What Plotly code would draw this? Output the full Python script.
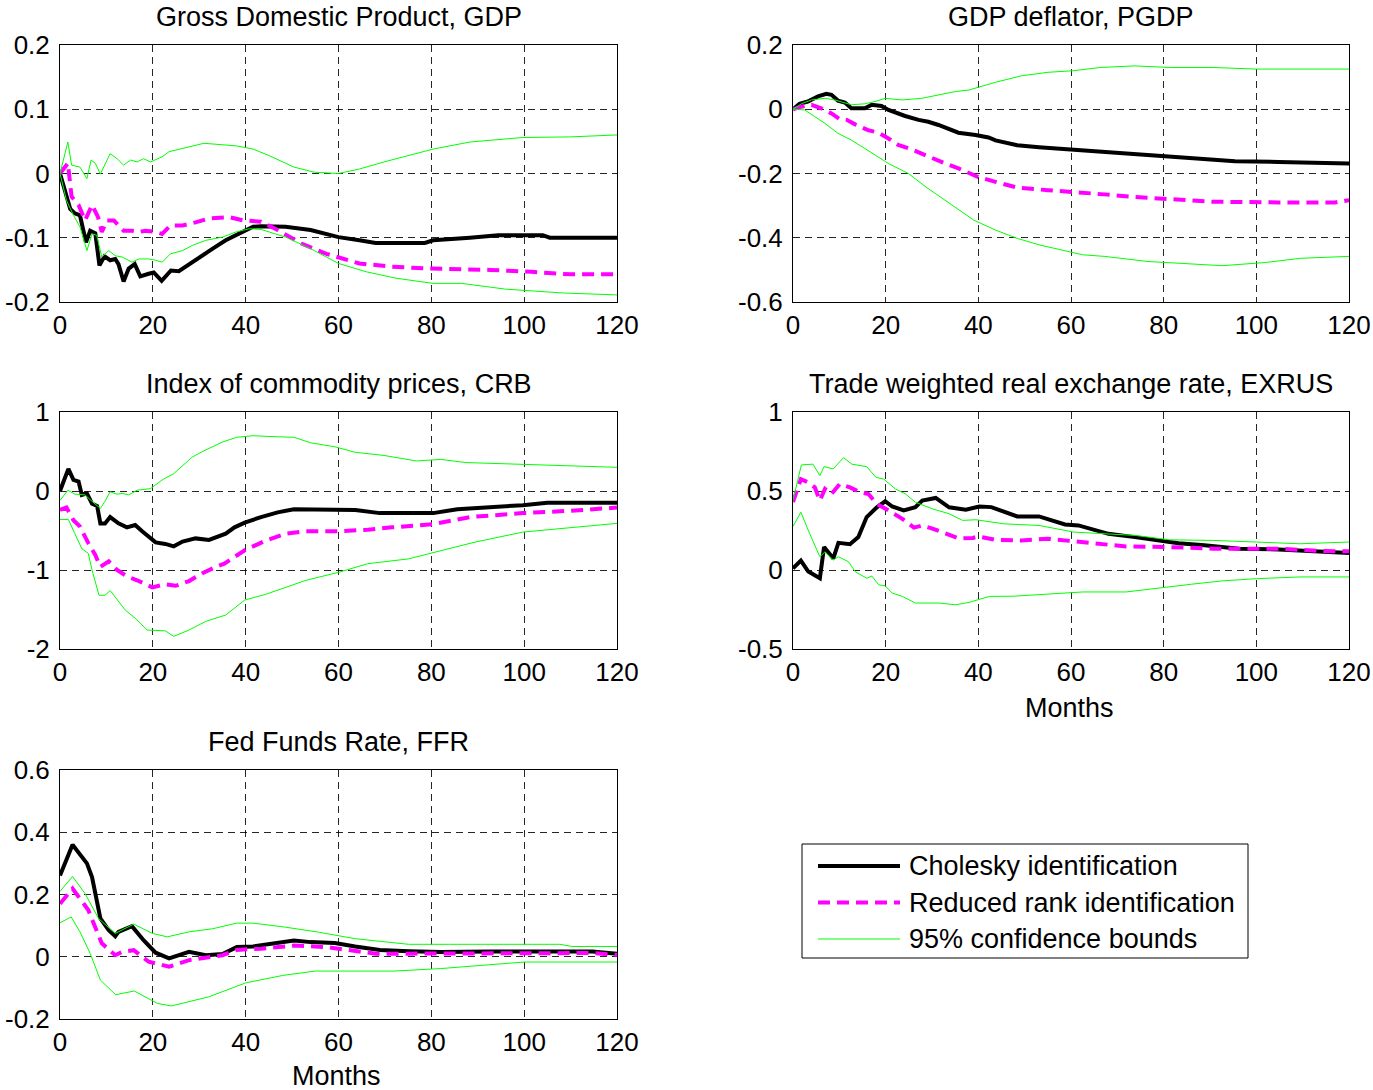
import plotly.graph_objects as go

# ---------------- data (month, value) ----------------
GDP_CHOL = [(0,0),(1.1,-0.026),(2.2,-0.055),(3.2,-0.062),(4.3,-0.065),(5.6,-0.107),(6.5,-0.089),(7.6,-0.093),(8.5,-0.143),(9.6,-0.129),(10.8,-0.135),(11.9,-0.133),(12.6,-0.141),(13.7,-0.168),(14.8,-0.148),(16.1,-0.141),(17.3,-0.16),(19.1,-0.156),(20.2,-0.154),(21.9,-0.167),(23.9,-0.151),(25.6,-0.152),(27.8,-0.141),(30,-0.13),(32.9,-0.117),(35.7,-0.104),(37.9,-0.096),(40.1,-0.089),(41.6,-0.083),(43.3,-0.082),(48.6,-0.083),(54,-0.088),(60,-0.099),(64.5,-0.104),(68,-0.108),(78.6,-0.108),(80.4,-0.104),(88.3,-0.1),(94.4,-0.096),(104,-0.096),(105.5,-0.1),(120,-0.1)]
GDP_RR = [(0,0),(1.7,0.016),(2.5,-0.036),(4,-0.049),(5.4,-0.073),(6.9,-0.049),(8.2,-0.068),(9,-0.091),(10.1,-0.073),(11.6,-0.073),(13.7,-0.089),(15.5,-0.089),(17,-0.091),(18.4,-0.089),(20.6,-0.091),(22,-0.094),(23.8,-0.081),(26.4,-0.081),(29.2,-0.076),(32.1,-0.07),(36.5,-0.068),(39.4,-0.073),(43.3,-0.075),(46.9,-0.088),(52,-0.109),(57.4,-0.125),(64.5,-0.14),(71.5,-0.145),(79.5,-0.148),(92.7,-0.15),(101.5,-0.153),(110,-0.157),(120,-0.157)]
GDP_HI = [(0,0),(1.7,0.049),(2.5,0.013),(4.3,0.01),(5.8,-0.008),(6.7,0.021),(7.6,0.016),(8.7,-0.001),(10.8,0.031),(12.3,0.023),(13.7,0.013),(15.2,0.021),(16.6,0.018),(18,0.023),(19.5,0.018),(20.6,0.022),(22,0.026),(23.5,0.034),(27.5,0.041),(31,0.047),(34.5,0.045),(38,0.043),(41.6,0.038),(45,0.028),(50.4,0.01),(54.8,0.002),(60,0),(64.5,0.007),(69.8,0.018),(75,0.028),(80.4,0.038),(88.3,0.049),(99.7,0.056),(110,0.057),(120,0.06)]
GDP_LO = [(0,0),(1.4,-0.042),(2.9,-0.065),(4.3,-0.083),(5.8,-0.12),(6.9,-0.094),(7.9,-0.096),(9,-0.13),(10.5,-0.12),(11.9,-0.128),(13.4,-0.13),(15.5,-0.138),(17,-0.133),(19.1,-0.133),(20.6,-0.135),(22,-0.138),(23.8,-0.125),(26.4,-0.12),(28.5,-0.112),(31.4,-0.104),(35,-0.099),(37.9,-0.091),(40.8,-0.086),(43.3,-0.087),(48.6,-0.099),(54,-0.117),(60,-0.14),(66,-0.153),(72.4,-0.163),(80.4,-0.171),(86.5,-0.171),(96,-0.18),(108.5,-0.186),(120,-0.189)]

PGDP_CHOL = [(0,0),(1.4,0.017),(3.2,0.024),(5.4,0.04),(7.2,0.048),(8.3,0.045),(9.7,0.027),(11.2,0.021),(12.6,0.003),(15.5,0.003),(17,0.014),(19.1,0.01),(20.6,-0.002),(24.2,-0.021),(27.1,-0.033),(29.2,-0.039),(31.4,-0.049),(33.6,-0.063),(35.7,-0.073),(39.4,-0.08),(42.2,-0.088),(43.7,-0.097),(48.4,-0.112),(53.1,-0.118),(57.8,-0.123),(62.5,-0.128),(67.2,-0.133),(71.9,-0.138),(79.4,-0.147),(86,-0.155),(95.4,-0.162),(104.8,-0.164),(111.4,-0.166),(114.2,-0.169),(120,-0.169)]
PGDP_RR = [(0,0),(1.8,0.008),(4,0.014),(6.1,0.003),(8.3,-0.013),(10.1,-0.031),(11.6,-0.033),(13.4,-0.047),(16.2,-0.065),(18.4,-0.073),(20.6,-0.091),(22.7,-0.111),(25.6,-0.125),(29.2,-0.148),(32.9,-0.169),(35.7,-0.184),(40,-0.211),(43.7,-0.226),(48.4,-0.244),(55,-0.252),(60.6,-0.257),(67.2,-0.265),(73.8,-0.273),(81.3,-0.281),(90.7,-0.288),(104.8,-0.29),(117,-0.29),(120,-0.283)]
PGDP_HI = [(0,0),(1.8,0.017),(4,0.029),(6.9,0.034),(9,0.029),(11.2,0.019),(12.6,0.014),(15.5,0.017),(17.7,0.024),(19.9,0.034),(23.5,0.029),(27.8,0.034),(31.4,0.045),(35,0.055),(38,0.06),(43.7,0.084),(49.3,0.104),(55,0.115),(60.6,0.12),(66.3,0.13),(73.8,0.135),(81.3,0.13),(90.7,0.13),(100,0.125),(109.4,0.125),(120,0.125)]
PGDP_LO = [(0,0),(2.5,-0.002),(4.7,-0.023),(6.9,-0.044),(9.7,-0.075),(12.6,-0.096),(15.5,-0.122),(18.4,-0.148),(20.6,-0.169),(23.5,-0.19),(24.9,-0.2),(28.7,-0.242),(34.3,-0.298),(39,-0.345),(43.7,-0.376),(48.4,-0.402),(53.1,-0.422),(57.8,-0.438),(62.5,-0.453),(67.2,-0.458),(76.6,-0.474),(84.1,-0.48),(92.6,-0.487),(102,-0.477),(109.5,-0.464),(120,-0.458)]

CRB_CHOL = [(0,0),(1.8,0.28),(2.9,0.14),(4,0.12),(4.7,-0.05),(5.8,-0.03),(6.9,-0.16),(8,-0.19),(8.7,-0.41),(9.7,-0.41),(10.8,-0.33),(12.6,-0.41),(14.4,-0.46),(16.2,-0.43),(17.7,-0.51),(20.6,-0.65),(22.7,-0.67),(24.5,-0.7),(26.4,-0.64),(29.2,-0.6),(32.1,-0.62),(35.7,-0.54),(37.6,-0.46),(39.8,-0.4),(43.3,-0.33),(46.9,-0.27),(50.4,-0.23),(57.4,-0.23),(63.6,-0.24),(68.9,-0.28),(80.4,-0.28),(85.6,-0.23),(92.7,-0.21),(99.7,-0.18),(105,-0.15),(120,-0.15)]
CRB_RR = [(0,-0.24),(1.4,-0.21),(2.9,-0.37),(4.3,-0.45),(6.1,-0.66),(7.6,-0.81),(8.7,-0.96),(10.5,-0.89),(12.3,-1.0),(14.4,-1.08),(16.6,-1.13),(19.9,-1.22),(22.7,-1.18),(24.9,-1.2),(27.8,-1.14),(30.7,-1.04),(33.6,-0.96),(35.4,-0.92),(39.8,-0.75),(44.2,-0.63),(48.6,-0.54),(53,-0.51),(60,-0.51),(66.3,-0.49),(71.5,-0.46),(80.4,-0.42),(88.3,-0.33),(99.7,-0.28),(110,-0.25),(120,-0.21)]
CRB_HI = [(0,-0.12),(1.7,0.01),(3.2,-0.04),(5.4,-0.05),(6.9,-0.13),(8.7,-0.22),(9.7,-0.13),(10.8,-0.01),(12.3,-0.04),(13.4,-0.03),(14.8,-0.05),(16.6,0.01),(19.5,0.03),(22,0.14),(24.5,0.22),(28.5,0.43),(30.7,0.5),(35,0.62),(38.1,0.68),(41.6,0.7),(45,0.69),(50.4,0.68),(54,0.61),(59.2,0.56),(63.6,0.49),(69.8,0.45),(76.8,0.38),(82,0.4),(87.4,0.36),(98.8,0.34),(110,0.32),(120,0.3)]
CRB_LO = [(0,-0.36),(1.8,-0.36),(3.2,-0.54),(4.7,-0.73),(6.1,-0.79),(6.9,-1.0),(8.4,-1.32),(9.7,-1.32),(10.8,-1.26),(11.9,-1.34),(14.1,-1.51),(16.2,-1.61),(18.8,-1.76),(22.7,-1.77),(24.5,-1.84),(27.8,-1.76),(31.4,-1.65),(35.7,-1.57),(39.8,-1.38),(44.2,-1.31),(48.6,-1.22),(53,-1.13),(60,-1.03),(66.3,-0.92),(75,-0.86),(80.4,-0.78),(89.2,-0.65),(99.7,-0.52),(110,-0.46),(120,-0.41)]

EXR_CHOL = [(0,0.01),(1.7,0.059),(3.3,-0.01),(5.8,-0.052),(6.7,0.146),(7.6,0.115),(8.7,0.073),(9.8,0.172),(12.3,0.163),(14.1,0.209),(15.9,0.335),(18.1,0.397),(19.9,0.435),(21.4,0.402),(23.9,0.377),(26.4,0.397),(27.9,0.439),(30.8,0.456),(33.7,0.397),(37.3,0.381),(40.2,0.402),(42.8,0.398),(45.6,0.366),(48.4,0.339),(53.1,0.339),(55.9,0.314),(58.7,0.288),(61.6,0.282),(64.4,0.261),(68.1,0.229),(73.8,0.208),(79.4,0.183),(83.2,0.17),(88.8,0.156),(96.3,0.135),(104.8,0.13),(109.5,0.124),(114.2,0.114),(120,0.107)]
EXR_RR = [(0,0.43),(1.7,0.575),(3.3,0.554),(4.7,0.523),(5.8,0.44),(6.9,0.513),(8.3,0.481),(10.1,0.544),(12.3,0.523),(14.5,0.492),(16.3,0.481),(18.1,0.418),(20.6,0.377),(23.6,0.324),(26.1,0.268),(27.9,0.282),(30.1,0.262),(33,0.23),(35.9,0.199),(38.8,0.203),(40,0.212),(43.7,0.191),(49.3,0.187),(55,0.198),(60.6,0.181),(66.3,0.17),(71.9,0.149),(81.3,0.145),(90.7,0.135),(104.8,0.135),(114.2,0.12),(120,0.118)]
EXR_HI = [(0,0.44),(1.8,0.665),(4.3,0.67),(5.8,0.597),(6.7,0.654),(8.7,0.64),(10.9,0.711),(12.7,0.67),(15.9,0.654),(17.9,0.586),(19.6,0.575),(22.1,0.513),(24.3,0.481),(26.4,0.429),(30.1,0.387),(33.7,0.356),(36.6,0.314),(39.5,0.318),(45.6,0.292),(53.1,0.282),(60.6,0.24),(67.2,0.229),(73.8,0.219),(81.3,0.191),(90.7,0.187),(100,0.177),(109.4,0.166),(120,0.177)]
EXR_LO = [(0,0.276),(1.7,0.366),(3.6,0.23),(5.8,0.084),(6.9,0.115),(8.7,0.063),(9.8,0.084),(12,0.052),(13.4,-0.01),(15.9,-0.052),(17,-0.038),(18.5,-0.094),(19.9,-0.1),(21.4,-0.146),(23.6,-0.167),(26.4,-0.209),(31.5,-0.209),(35.1,-0.22),(38,-0.205),(42.4,-0.167),(47.5,-0.166),(55,-0.153),(62.5,-0.139),(71.9,-0.139),(79.4,-0.111),(86,-0.09),(92.6,-0.069),(100,-0.055),(109.4,-0.044),(120,-0.044)]

FFR_CHOL = [(0,0.261),(2.7,0.36),(5.8,0.30),(6.9,0.256),(8.7,0.123),(10.5,0.085),(11.9,0.066),(12.6,0.08),(15.5,0.098),(18,0.053),(20.6,0.013),(23.5,-0.005),(27.8,0.016),(31.4,0.005),(35,0.009),(38.1,0.031),(41.6,0.033),(45.1,0.04),(50.4,0.052),(54,0.047),(59.2,0.044),(63.6,0.033),(68.9,0.022),(75.1,0.018),(82.1,0.015),(92.7,0.017),(101.5,0.017),(114.7,0.017),(120,0.01)]
FFR_RR = [(0,0.17),(2.7,0.219),(6.1,0.15),(9,0.043),(11.9,0.005),(13.4,0.016),(15.9,0.021),(19.1,-0.016),(23.5,-0.032),(27.8,-0.011),(35,0.005),(38.1,0.022),(43.3,0.026),(50.4,0.036),(57.4,0.031),(62.7,0.02),(68,0.01),(75.1,0.01),(83.9,0.01),(92.7,0.012),(105.9,0.012),(114.7,0.012),(120,0.006)]
FFR_HI = [(0,0.21),(2.7,0.258),(5.4,0.203),(8.3,0.123),(11.9,0.075),(15.9,0.105),(19.9,0.075),(23.1,0.064),(27.8,0.08),(32.9,0.09),(38.1,0.108),(41.6,0.108),(48.6,0.095),(55.7,0.079),(63.6,0.058),(70.7,0.047),(75.1,0.04),(83.9,0.04),(92.7,0.04),(107.7,0.04),(110.3,0.033),(120,0.033)]
FFR_LO = [(0,0.109),(2.4,0.128),(4.3,0.08),(6.5,0.011),(8.7,-0.075),(10.8,-0.107),(12,-0.122),(16,-0.11),(21,-0.15),(24,-0.158),(32,-0.129),(40,-0.084),(48,-0.06),(55,-0.046),(72,-0.046),(82,-0.038),(92,-0.025),(100,-0.017),(120,-0.017)]

TITLES = ["Gross Domestic Product, GDP", "GDP deflator, PGDP",
          "Index of commodity prices, CRB", "Trade weighted real exchange rate, EXRUS",
          "Fed Funds Rate, FFR"]
Y_TICKS = [[-0.2, -0.1, 0, 0.1, 0.2], [-0.6, -0.4, -0.2, 0, 0.2], [-2, -1, 0, 1],
           [-0.5, 0, 0.5, 1], [-0.2, 0, 0.2, 0.4, 0.6]]
X_TICKS = [0, 20, 40, 60, 80, 100, 120]
LEGEND_LABELS = ["Cholesky identification", "Reduced rank identification", "95% confidence bounds"]
XLABEL = "Months"

PANELS = [(GDP_CHOL, GDP_RR, GDP_HI, GDP_LO), (PGDP_CHOL, PGDP_RR, PGDP_HI, PGDP_LO),
          (CRB_CHOL, CRB_RR, CRB_HI, CRB_LO), (EXR_CHOL, EXR_RR, EXR_HI, EXR_LO),
          (FFR_CHOL, FFR_RR, FFR_HI, FFR_LO)]

# ---------------- layout geometry (pixels) ----------------
W, H = 1373, 1090
COLS = [(60, 617), (793, 1349)]
ROWS = [(45, 302), (412, 649), (770, 1019)]
POS = [(0, 0), (1, 0), (0, 1), (1, 1), (0, 2)]
FONT = "Liberation Sans, Arial, sans-serif"
FS_TICK = 26
FS_TEXT = 27

def px(x):
    return x / W

def py(y):
    return 1 - y / H

def fmt(v):
    return "%g" % v

GREEN = "rgb(0,255,0)"
MAGENTA = "rgb(255,0,255)"

fig = go.Figure()
annotations = []
shapes = []
layout_axes = {}

for i, (series, title, yt, (c, r)) in enumerate(zip(PANELS, TITLES, Y_TICKS, POS)):
    k = "" if i == 0 else str(i + 1)
    xa, ya = "x" + k, "y" + k
    chol, rr, hi, lo = series
    styles = [
        (chol, dict(color="black", width=4)),
        (rr, dict(color=MAGENTA, width=4, dash="12px,7px")),
        (hi, dict(color=GREEN, width=1)),
        (lo, dict(color=GREEN, width=1)),
    ]
    for data, line in styles:
        fig.add_trace(go.Scatter(x=[d[0] for d in data], y=[d[1] for d in data],
                                 mode="lines", line=line, xaxis=xa, yaxis=ya,
                                 showlegend=False, hoverinfo="skip"))
    x0, x1 = COLS[c]
    y0, y1 = ROWS[r]
    common = dict(showline=True, linecolor="black", linewidth=1, mirror=True,
                  showgrid=True, gridcolor="rgba(0,0,0,0.85)", gridwidth=1,
                  griddash="7px,5px", zeroline=False, ticks="", automargin=False,
                  tickfont=dict(family=FONT, size=FS_TICK, color="black"))
    layout_axes["xaxis" + k] = dict(common, domain=[px(x0), px(x1)], range=[0, 120],
                                    anchor=ya, tickvals=X_TICKS,
                                    ticktext=[fmt(v) for v in X_TICKS])
    layout_axes["yaxis" + k] = dict(common, domain=[py(y1), py(y0)],
                                    range=[yt[0], yt[-1]], anchor=xa, tickvals=yt,
                                    ticktext=[fmt(v) for v in yt], ticklabelstandoff=4)
    annotations.append(dict(text=title, xref="paper", yref="paper",
                            x=px((x0 + x1) / 2), y=py(y0 - 28), xanchor="center",
                            yanchor="middle", showarrow=False,
                            font=dict(family=FONT, size=FS_TEXT, color="black")))

# x-axis labels "Months"
for (cx, cy) in [(1069, 708), (336, 1076)]:
    annotations.append(dict(text=XLABEL, xref="paper", yref="paper", x=px(cx), y=py(cy),
                            xanchor="center", yanchor="middle", showarrow=False,
                            font=dict(family=FONT, size=FS_TEXT, color="black")))

# legend box
shapes.append(dict(type="rect", xref="paper", yref="paper", x0=px(802), x1=px(1248),
                   y0=py(958), y1=py(844), line=dict(color="black", width=1),
                   fillcolor="white", layer="above"))
leg_styles = [dict(color="black", width=4), dict(color=MAGENTA, width=4, dash="12px,7px"),
              dict(color=GREEN, width=1)]
for j, (lab, ls) in enumerate(zip(LEGEND_LABELS, leg_styles)):
    yy = 866 + j * 36.5
    shapes.append(dict(type="line", xref="paper", yref="paper", x0=px(818), x1=px(900),
                       y0=py(yy), y1=py(yy), line=ls, layer="above"))
    annotations.append(dict(text=lab, xref="paper", yref="paper", x=px(907), y=py(yy),
                            xanchor="left", yanchor="middle", showarrow=False,
                            font=dict(family=FONT, size=FS_TEXT, color="black")))

fig.update_layout(width=W, height=H, margin=dict(l=0, r=0, t=0, b=0),
                  paper_bgcolor="white", plot_bgcolor="white",
                  annotations=annotations, shapes=shapes, showlegend=False,
                  **layout_axes)

fig.write_html("out.html", config={"displayModeBar": False},
               post_script="document.body.style.margin='0';"
                           "document.body.style.padding='0';"
                           "document.body.style.overflow='hidden';")
